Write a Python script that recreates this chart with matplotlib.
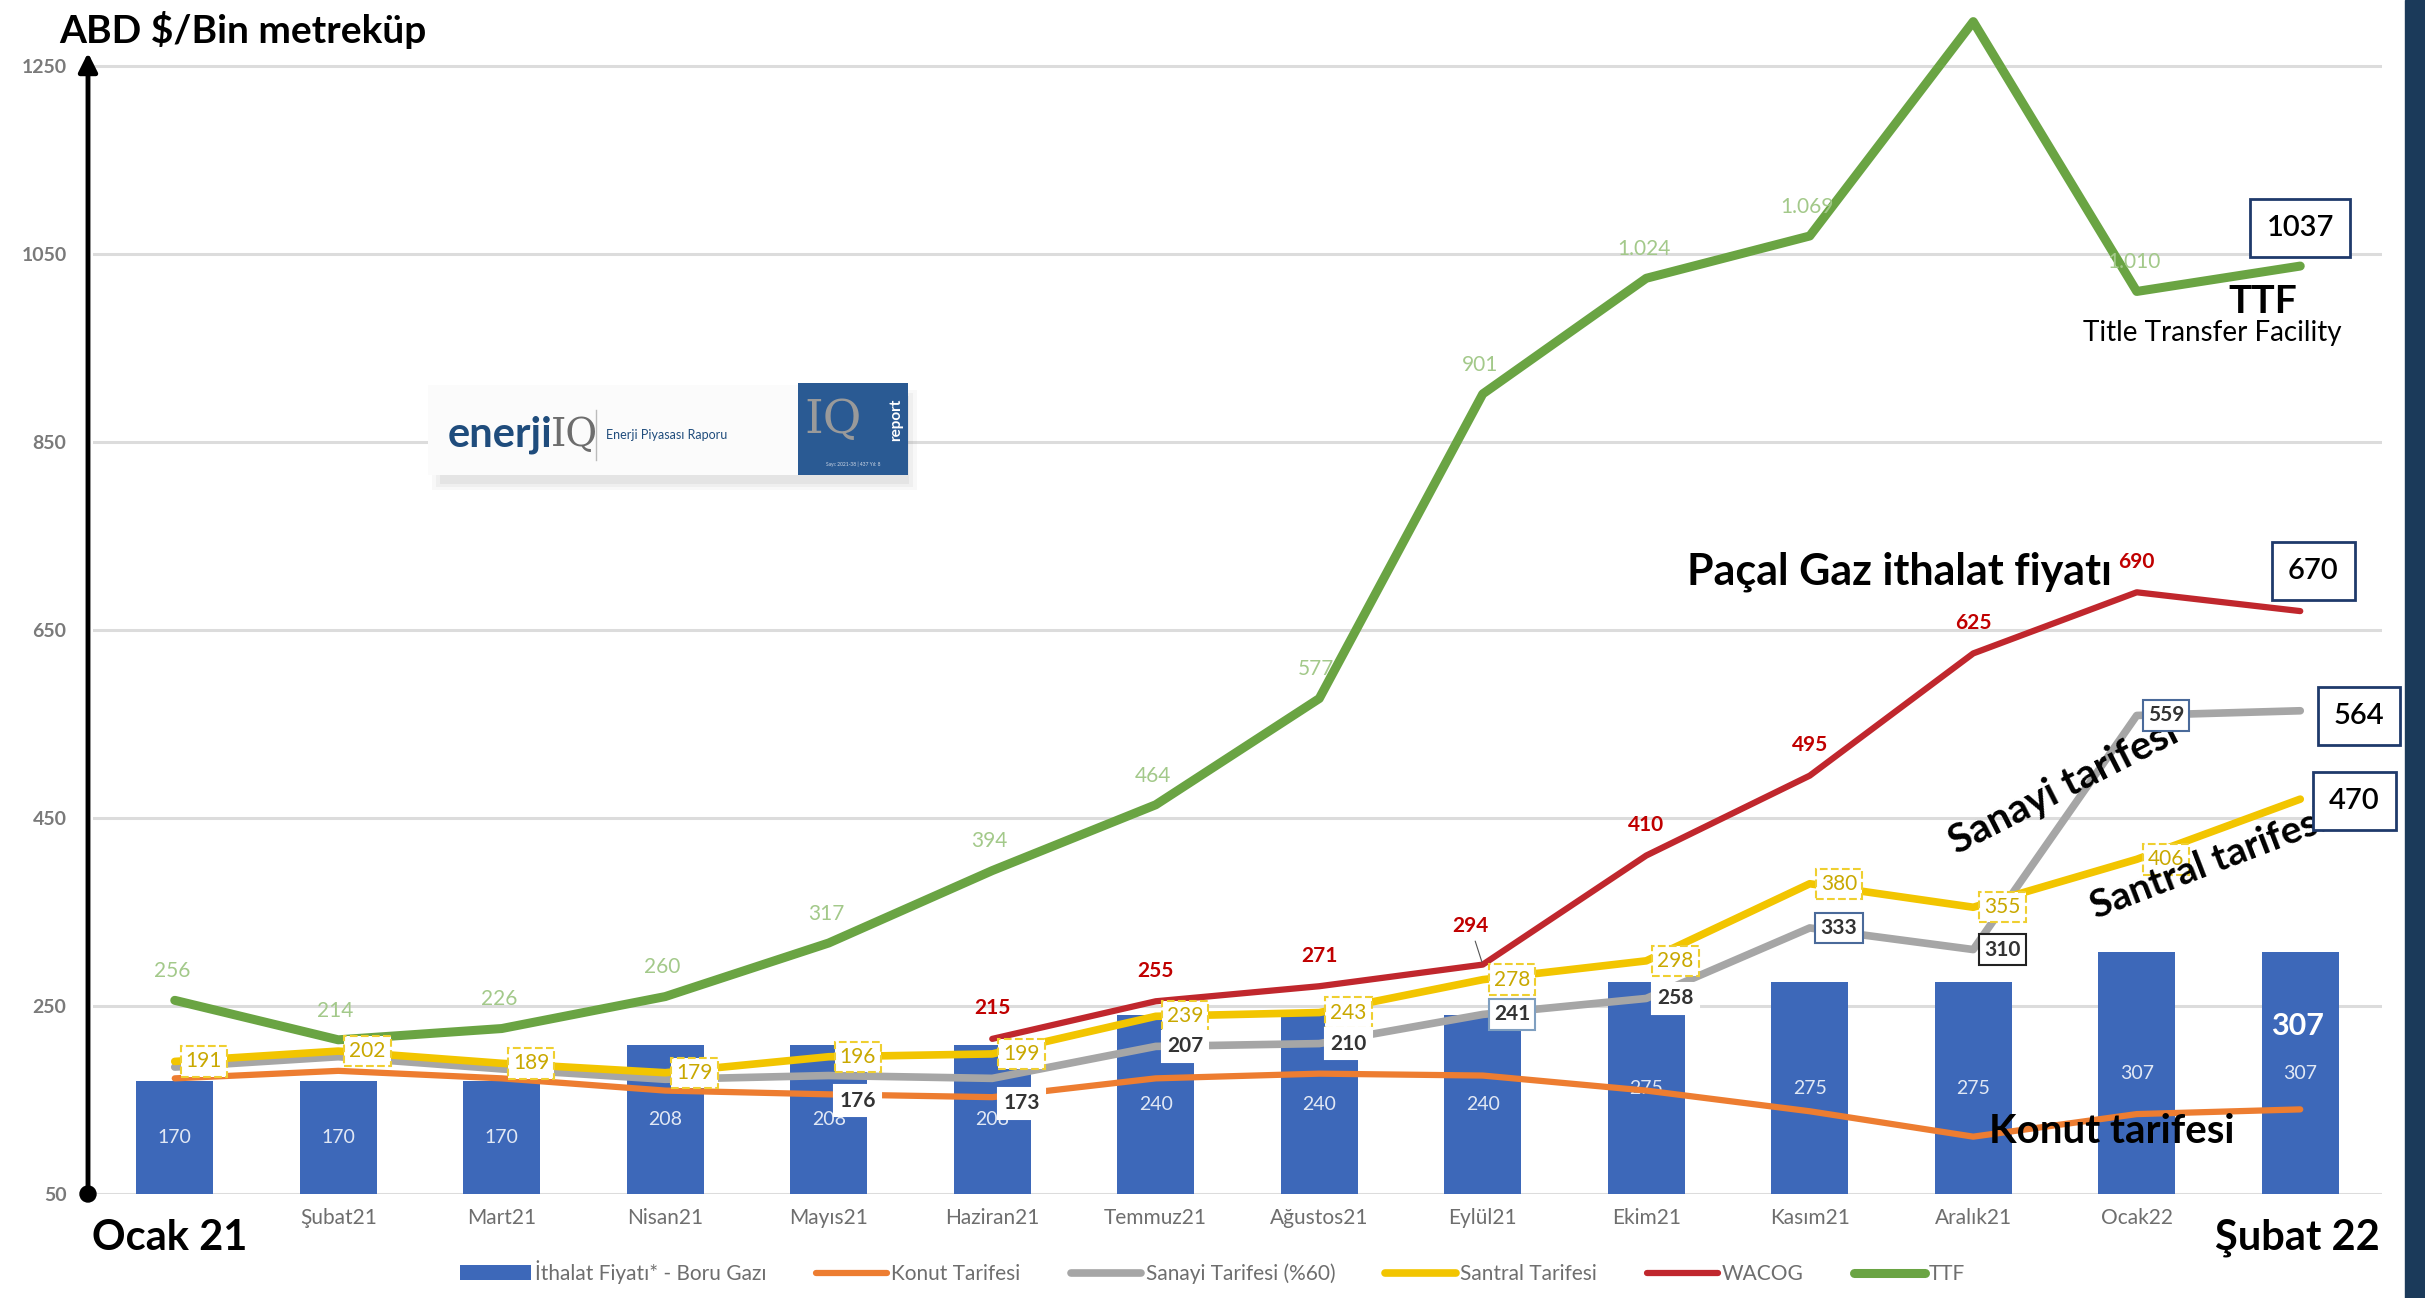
import numpy as np
import matplotlib
import matplotlib.pyplot as plt
from matplotlib.patches import Rectangle, FancyArrowPatch

matplotlib.rcParams['font.family'] = ['Lato', 'DejaVu Sans']

# --- veriler ---
aylar = ['Ocak21', 'Şubat21', 'Mart21', 'Nisan21', 'Mayıs21', 'Haziran21', 'Temmuz21',
         'Ağustos21', 'Eylül21', 'Ekim21', 'Kasım21', 'Aralık21', 'Ocak22', 'Şubat22']
ithalat = [170, 170, 170, 208, 208, 208, 240, 240, 240, 275, 275, 275, 307, 307]
konut = [173, 181, 173, 160, 156, 153, 173, 178, 176, 160, 138, 111, 135, 140]
sanayi = [185, 196, 183, 172, 176, 173, 207, 210, 241, 258, 333, 310, 559, 564]
santral = [191, 202, 189, 179, 196, 199, 239, 243, 278, 298, 380, 355, 406, 470]
wacog = [None, None, None, None, None, 215, 255, 271, 294, 410, 495, 625, 690, 670]
ttf = [256, 214, 226, 260, 317, 394, 464, 577, 901, 1024, 1069, 1297, 1010, 1037]
yticks = [50, 250, 450, 650, 850, 1050, 1250]

x = np.arange(len(aylar))

def tr(v):
    return f"{v:,}".replace(",", ".")

fig = plt.figure(figsize=(24.25, 12.98), dpi=100)
ax = fig.add_axes([93/2425, 104/1298, 2289/2425, 1194/1298])
ax.set_xlim(-0.5, 13.5)
ax.set_ylim(50, 1320)

# grid
for t in yticks:
    ax.axhline(t, color='#dcdcdc', lw=2.2, zorder=0)

# bars
b = ax.bar(x, [v - 50 for v in ithalat], bottom=50, width=0.47, color='#3d68b9', zorder=1,
           label='İthalat Fiyatı* - Boru Gazı')
for i, v in enumerate(ithalat):
    ax.text(x[i], (50 + v) / 2, str(v), color='white', fontsize=14, ha='center', va='center',
            alpha=0.85, zorder=2)

kw = dict(solid_joinstyle='round', solid_capstyle='round')
l1, = ax.plot(x, konut, color='#ed7d31', lw=4.5, zorder=3, label='Konut Tarifesi', **kw)
l2, = ax.plot(x, sanayi, color='#a6a6a6', lw=5.5, zorder=4, label='Sanayi Tarifesi (%60)', **kw)
l3, = ax.plot(x, santral, color='#f2c500', lw=5.5, zorder=5, label='Santral Tarifesi', **kw)
wx = [i for i, v in enumerate(wacog) if v is not None]
wy = [v for v in wacog if v is not None]
l4, = ax.plot(wx, wy, color='#c0272d', lw=4.5, zorder=6, label='WACOG', **kw)
l5, = ax.plot(x, ttf, color='#6aa443', lw=6.5, zorder=7, label='TTF', **kw)

# TTF labels
for i, v in enumerate(ttf[:-1]):
    ax.annotate(tr(v), (x[i], v), xytext=(-2, 21), textcoords='offset points', ha='center',
                va='center', fontsize=15, color='#a3c98a', zorder=8, annotation_clip=False)

# WACOG labels
for i, v in zip(wx, wy):
    off = (-9, 28) if i == 8 else (0, 22)
    ax.annotate(str(v), (i, v), xytext=off, textcoords='offset points', ha='center', va='center',
                fontsize=15, fontweight='bold', color='#c00000', zorder=8,
                arrowprops=dict(arrowstyle='-', color='#555555', lw=0.8) if i == 8 else None)

# Santral labels
for i, v in enumerate(santral[:-1]):
    ax.annotate(str(v), (x[i], v), xytext=(21, 0), textcoords='offset points', ha='center',
                va='center', fontsize=15, color='#c9a800', zorder=9,
                bbox=dict(boxstyle='square,pad=0.25', fc='white', ec='#efcf30', lw=1.5, ls='--'))

# Sanayi labels
sanayi_kenar = {8: '#7f9fc0', 10: '#4a6a9a', 11: '#222222', 12: '#4a6a9a'}
for i in range(4, 13):
    v = sanayi[i]
    dy = -18 if i in (4, 5) else 0
    ec = sanayi_kenar.get(i, 'white')
    ax.annotate(str(v), (x[i], v), xytext=(21, dy), textcoords='offset points', ha='center',
                va='center', fontsize=15, color='#333333', fontweight='bold', zorder=13,
                bbox=dict(boxstyle='square,pad=0.25', fc='white', ec=ec, lw=1.5))

# y axis
ax.set_yticks(yticks)
ax.set_yticklabels([str(t) for t in yticks], fontsize=14, color='#7a7a7a', fontweight='bold')
ax.tick_params(axis='y', length=0, pad=19)
ax.set_xticks(x)
ax.set_xticklabels([''] + aylar[1:-1] + [''], fontsize=15, color='#6e6e6e')
ax.tick_params(axis='x', length=0, pad=10)
for s in ax.spines.values():
    s.set_visible(False)

# arrow axis
ar = FancyArrowPatch((88, 1298 - 1194), (88, 1298 - 50), transform=None, arrowstyle='-|>',
                     mutation_scale=28, lw=3.5, color='black', zorder=20)
fig.patches.append(ar)
fig.patches.append(plt.Circle((88, 1298 - 1194), 8, transform=None, color='black', zorder=21))

fig.text(59 / 2425, 1 - 30 / 1298, 'ABD $/Bin metreküp', fontsize=28, fontweight='bold',
         ha='left', va='center')
fig.text(170 / 2425, 1 - 1238 / 1298, 'Ocak 21', fontsize=30, fontweight='bold',
         ha='center', va='center')
fig.text(2297 / 2425, 1 - 1238 / 1298, 'Şubat 22', fontsize=30, fontweight='bold',
         ha='center', va='center')

# annotations on the right
ax.text(11.85, 712, 'Paçal Gaz ithalat fiyatı', fontsize=31, fontweight='bold', ha='right',
        va='center', zorder=12)
kutu = dict(boxstyle='square,pad=0.55', fc='white', ec='#1f3a6b', lw=2)
ax.text(13.08, 713, '670', fontsize=21, fontweight='semibold', ha='center', va='center',
        bbox=kutu, zorder=12)
ax.text(13.0, 1077, '1037', fontsize=21, fontweight='semibold', ha='center', va='center',
        bbox=kutu, zorder=12)
ax.text(13.36, 558, '564', fontsize=21, fontweight='semibold', ha='center', va='center',
        bbox=kutu, zorder=12)
ax.text(13.33, 468, '470', fontsize=21, fontweight='semibold', ha='center', va='center',
        bbox=kutu, zorder=12)
ax.text(12.77, 999, 'TTF', fontsize=28, fontweight='bold', ha='center', va='center', zorder=12)
ax.text(12.46, 966, 'Title Transfer Facility', fontsize=20, ha='center', va='center', zorder=12)
ax.text(11.55, 482, 'Sanayi tarifesi', fontsize=29, fontweight='bold', rotation=27,
        ha='center', va='center', zorder=12)
ax.text(12.44, 402, 'Santral tarifesi', fontsize=28, fontweight='bold', rotation=21,
        ha='center', va='center', zorder=11)
ax.text(12.98, 229, '307', fontsize=22, fontweight='bold', color='white', ha='center',
        va='center', zorder=12)
ax.text(11.85, 117, 'Konut tarifesi', fontsize=29, fontweight='bold', ha='center',
        va='center', zorder=12)

# legend
leg = fig.legend(handles=[b, l1, l2, l3, l4, l5], loc='center', bbox_to_anchor=(0.5, 0.02),
                 ncol=6, frameon=False, fontsize=15, handlelength=3.4, columnspacing=2.4,
                 handletextpad=0.2)
for t in leg.get_texts():
    t.set_color('#6e6e6e')

# logo
lg = fig.add_axes([418 / 2425, 1 - 490 / 1298, 505 / 2425, 115 / 1298])
lg.set_xlim(0, 505)
lg.set_ylim(0, 115)
lg.axis('off')
for k, a in enumerate([0.06, 0.08, 0.10]):
    lg.add_patch(Rectangle((14 + 4 * k, 0 + 3 * k), 485 - 8 * k, 100 - 6 * k, color='#888888',
                           alpha=a, lw=0))
lg.add_patch(Rectangle((10, 15), 370, 90, fc='#fbfbfb', ec='none'))
lg.add_patch(Rectangle((380, 15), 110, 92, fc='#2a5a93', ec='none'))
lg.text(30, 55, 'enerji', fontsize=30, fontweight='bold', color='#1f4c7c', va='center')
lg.text(133, 55, 'IQ', fontsize=28, family='DejaVu Serif', color='#6d6d6d', va='center')
lg.plot([178, 178], [30, 80], color='#bbbbbb', lw=1)
lg.text(188, 55, 'Enerji Piyasası Raporu', fontsize=9, color='#1f4c7c', va='center')
lg.text(386, 70, 'IQ', fontsize=34, family='DejaVu Serif', color='#9a9a9a', va='center')
lg.text(478, 70, 'report', fontsize=11, color='white', rotation=90, ha='center', va='center',
        fontweight='bold')
lg.text(435, 24, 'Sayı: 2021-38 | 437 Yıl: 8', fontsize=3.5, color='#cfd8e6', ha='center')

# right edge strip
fig.patches.append(Rectangle((2405, 0), 20, 1298, transform=None, color='#1b3a5a', zorder=30))

fig.savefig('out.png', dpi=100)
